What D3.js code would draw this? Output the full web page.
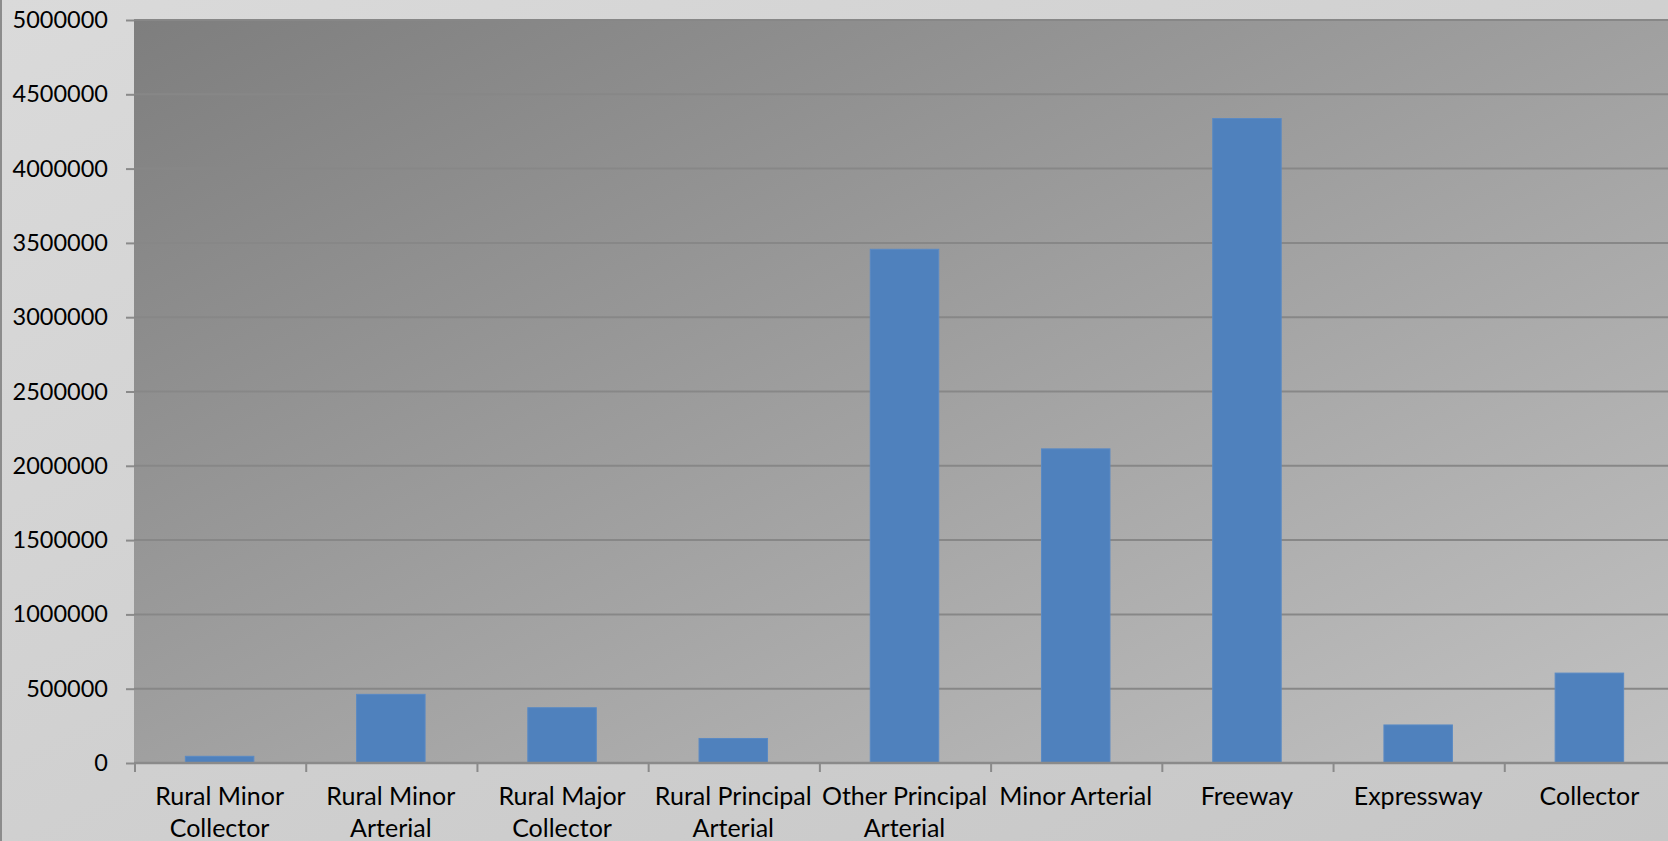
<!DOCTYPE html>
<html>
<head>
<meta charset="utf-8">
<script src="https://cdn.jsdelivr.net/npm/d3@7"></script>
<style>
  html, body { margin: 0; padding: 0; background: #d4d4d4; overflow: hidden; }
  svg { display: block; }
  text { font-family: Lato, "Open Sans", sans-serif; fill: #000; }
</style>
</head>
<body>
<svg id="chart" width="1668" height="841"></svg>
<script>
const categories = [
  ["Rural Minor", "Collector"],
  ["Rural Minor", "Arterial"],
  ["Rural Major", "Collector"],
  ["Rural Principal", "Arterial"],
  ["Other Principal", "Arterial"],
  ["Minor Arterial"],
  ["Freeway"],
  ["Expressway"],
  ["Collector"]
];
const values = [45000, 462000, 372000, 165000, 3457000, 2114000, 4337000, 256000, 605000];
const yTicks = [0, 500000, 1000000, 1500000, 2000000, 2500000, 3000000, 3500000, 4000000, 4500000, 5000000];

const W = 1668, H = 841;
const margin = { left: 134, top: 20, right: -7, bottom: 78 };
const pw = W - margin.left - margin.right;
const ph = H - margin.top - margin.bottom;

const svg = d3.select("#chart");
const defs = svg.append("defs");

const g1 = defs.append("linearGradient").attr("id", "outerGrad")
  .attr("x1", 0).attr("y1", 0).attr("x2", 1).attr("y2", 1);
g1.append("stop").attr("offset", 0).attr("stop-color", "#dadada");
g1.append("stop").attr("offset", 1).attr("stop-color", "#c6c6c6");

const g2 = defs.append("linearGradient").attr("id", "plotGrad")
  .attr("x1", 0).attr("y1", 0).attr("x2", 1).attr("y2", 1);
g2.append("stop").attr("offset", 0).attr("stop-color", "#7e7e7e");
g2.append("stop").attr("offset", 1).attr("stop-color", "#c2c2c2");

svg.append("rect").attr("x", 0).attr("y", 0).attr("width", W).attr("height", H)
  .attr("fill", "url(#outerGrad)");
svg.append("line").attr("x1", 1).attr("x2", 1).attr("y1", 0).attr("y2", H)
  .attr("stroke", "#8c8c8c").attr("stroke-width", 2);

const x = d3.scaleBand().domain(d3.range(categories.length))
  .range([margin.left, margin.left + pw]).paddingInner(0).paddingOuter(0);
const y = d3.scaleLinear().domain([0, 5000000]).range([margin.top + ph, margin.top]);

svg.append("rect").attr("x", margin.left).attr("y", margin.top)
  .attr("width", pw).attr("height", ph).attr("fill", "url(#plotGrad)");

// gridlines
svg.append("g").selectAll("line").data(yTicks.filter(d => d > 0)).join("line")
  .attr("x1", margin.left).attr("x2", margin.left + pw)
  .attr("y1", d => y(d)).attr("y2", d => y(d))
  .attr("stroke", "#878787").attr("stroke-width", 2);

// bars
const bw = x.bandwidth() * 0.4;
svg.append("g").selectAll("rect").data(values).join("rect")
  .attr("x", (d, i) => x(i) + (x.bandwidth() - bw) / 2)
  .attr("y", d => y(d))
  .attr("width", bw)
  .attr("height", d => y(0) - y(d))
  .attr("fill", "#4f81bd")
  .attr("stroke", "#5a8ac4").attr("stroke-width", 1);

// y axis
const yAxis = d3.axisLeft(y).tickValues(yTicks).tickFormat(d => String(d)).tickSize(8).tickPadding(18);
const ya = svg.append("g").attr("transform", `translate(${margin.left},0)`).call(yAxis);
ya.select(".domain").remove();
ya.selectAll(".tick line").attr("stroke", "#8a8a8a").attr("stroke-width", 2);
ya.selectAll(".tick text").attr("font-size", 23.5).attr("font-family", "Lato, 'Open Sans', sans-serif").attr("fill", "#000");

// x axis
svg.append("line").attr("x1", margin.left).attr("x2", margin.left + pw)
  .attr("y1", y(0)).attr("y2", y(0)).attr("stroke", "#8a8a8a").attr("stroke-width", 2.5);
svg.append("g").selectAll("line").data(d3.range(categories.length)).join("line")
  .attr("x1", i => x(i) + 1).attr("x2", i => x(i) + 1)
  .attr("y1", y(0)).attr("y2", y(0) + 9)
  .attr("stroke", "#8a8a8a").attr("stroke-width", 2);

const lbl = svg.append("g").selectAll("text").data(categories).join("text")
  .attr("x", (d, i) => x(i) + x.bandwidth() / 2)
  .attr("y", y(0) + 42)
  .attr("text-anchor", "middle")
  .attr("font-size", 25);
lbl.selectAll("tspan").data(d => d).join("tspan")
  .attr("x", function () { return d3.select(this.parentNode).attr("x"); })
  .attr("dy", (d, i) => i === 0 ? 0 : 32)
  .text(d => d);
</script>
</body>
</html>
